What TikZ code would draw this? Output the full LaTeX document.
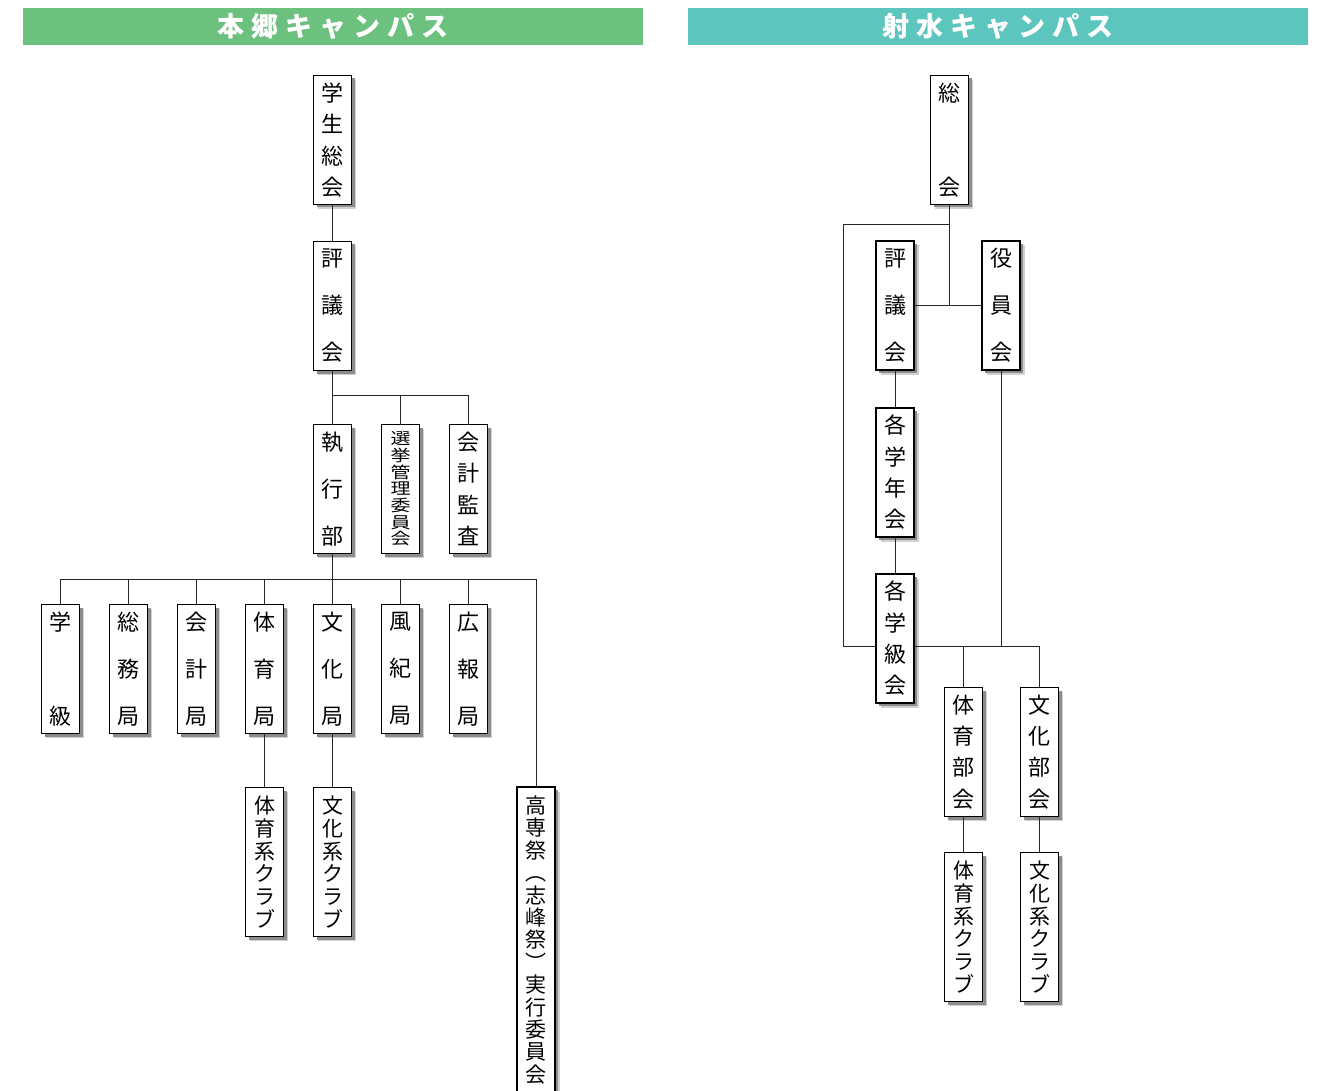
\documentclass[tikz,border=0pt]{standalone}
\usepackage{fontspec}
\setmainfont{Noto Sans CJK JP}
\newfontfamily\wideJP{Noto Sans CJK JP}[FakeStretch=1.25]
\newfontfamily\headJP{Noto Sans CJK JP}[LetterSpace=26]
\usetikzlibrary{positioning, shadows}
\definecolor{hongo}{HTML}{6BC17D}
\definecolor{imizu}{HTML}{5CC5BE}

\begin{document}
\begin{tikzpicture}[
    x=1pt, y=-1pt,
    org/.style={rectangle, draw, line width=1.1pt, fill=white, minimum width=38pt, minimum height=129pt, inner sep=0pt, outer sep=0pt, align=center,
        drop shadow={shadow xshift=4.5pt, shadow yshift=-4.5pt, fill=black!18, opacity=1},
        drop shadow={shadow xshift=3pt, shadow yshift=-3pt, fill=black!45, opacity=1}},
    two/.style={org, font=\fontsize{22}{94}\selectfont},
    three/.style={org, font=\fontsize{22}{47}\selectfont},
    four/.style={org, font=\fontsize{22}{31.3}\selectfont},
    club/.style={org, minimum height=149pt, font=\fontsize{21}{22.8}\selectfont},
    bar/.style={rectangle, minimum width=620pt, minimum height=37pt, inner sep=0pt, text=white, font=\headJP\bfseries\fontsize{27}{27}\selectfont},
    line/.style={line width=1pt, black!85}
]
    \useasboundingbox (0,0) rectangle (1319,1091);

    % campus headers
    \node[bar, fill=hongo] (hongo) at (333,26.5) {本郷キャンパス};
    \node[bar, fill=imizu] (imizu) at (998,26.5) {射水キャンパス};

    % Hongo
    \node[four] (gakusei) at (332.5,140) {学\\生\\総\\会};
    \node[three, below=37pt of gakusei] (hyogi) {評\\議\\会};
    \node[three, below=54pt of hyogi] (shikko) {執\\行\\部};
    \node[org, right=30pt of shikko, font=\wideJP\fontsize{16}{16.7}\selectfont] (senkyo) {選\\挙\\管\\理\\委\\員\\会};
    \node[four, right=30pt of senkyo] (kansa) {会\\計\\監\\査};

    \node[two] (gakkyu) at (60.5,669) {学\\級};
    \node[three, right=30pt of gakkyu] (somu) {総\\務\\局};
    \node[three, right=30pt of somu] (kaikei) {会\\計\\局};
    \node[three, right=30pt of kaikei] (taiiku) {体\\育\\局};
    \node[three, right=30pt of taiiku] (bunka) {文\\化\\局};
    \node[three, right=30pt of bunka] (fuki) {風\\紀\\局};
    \node[three, right=30pt of fuki] (koho) {広\\報\\局};

    \node[club, below=54pt of taiiku] (taiikuclub) {体\\育\\系\\ク\\ラ\\ブ};
    \node[club, below=54pt of bunka] (bunkaclub) {文\\化\\系\\ク\\ラ\\ブ};
    \node[org, minimum height=306pt, anchor=north, font=\fontsize{21}{22.4}\selectfont] (kosensai) at (536,787)
        {高\\専\\祭\\︵\\志\\峰\\祭\\︶\\実\\行\\委\\員\\会};

    \coordinate (bus1) at ([yshift=29pt]kansa.north);
    \coordinate (bus2) at ([yshift=-26pt]shikko.south);
    \draw[line] (gakusei) -- (hyogi);
    \draw[line] (hyogi) -- (shikko);
    \draw[line] (shikko.north |- bus1) -- (bus1) -- (kansa.north);
    \draw[line] (senkyo.north) -- (senkyo.north |- bus1);
    \draw[line] (shikko) -- (bunka);
    \draw[line] (gakkyu.north) |- (bus2) -| (kosensai.north);
    \foreach \n in {somu,kaikei,taiiku,fuki,koho}
        \draw[line] (\n.north) -- (\n.north |- bus2);
    \draw[line] (taiiku) -- (taiikuclub);
    \draw[line] (bunka) -- (bunkaclub);

    % Imizu
    \node[two] (sokai) at (949.5,140) {総\\会};
    \node[three] (hyogi2) at (895,305.5) {評\\議\\会};
    \node[three] (yakuin) at (1001,305.5) {役\\員\\会};
    \node[four, below=38pt of hyogi2] (gakunen) {各\\学\\年\\会};
    \node[four, below=37pt of gakunen] (gakkyukai) {各\\学\\級\\会};
    \node[four] (taiikubukai) at (963.5,752) {体\\育\\部\\会};
    \node[four, right=38pt of taiikubukai] (bunkabukai) {文\\化\\部\\会};
    \node[club, below=36pt of taiikubukai] (taiikuclub2) {体\\育\\系\\ク\\ラ\\ブ};
    \node[club, below=36pt of bunkabukai] (bunkaclub2) {文\\化\\系\\ク\\ラ\\ブ};

    \coordinate (loop) at ([yshift=-20pt]sokai.south);
    \coordinate (kL) at ([yshift=-8pt]gakkyukai.west);
    \coordinate (kR) at ([yshift=-8pt]gakkyukai.east);
    \draw[line] (sokai.south) -- (sokai.south |- hyogi2.east);
    \draw[line] (hyogi2.east) -- (yakuin.west);
    \draw[line] (loop) -- ++(-106.5,0) |- (kL);
    \draw[line] (yakuin.south) |- (kR);
    \draw[line] (kR) -| (bunkabukai.north);
    \draw[line] (taiikubukai.north) -- (taiikubukai.north |- kR);
    \draw[line] (hyogi2) -- (gakunen);
    \draw[line] (gakunen) -- (gakkyukai);
    \draw[line] (taiikubukai) -- (taiikuclub2);
    \draw[line] (bunkabukai) -- (bunkaclub2);
\end{tikzpicture}
\end{document}
